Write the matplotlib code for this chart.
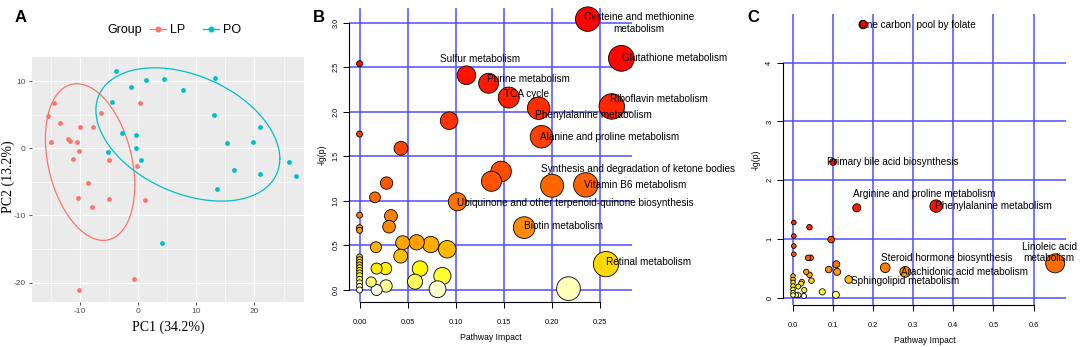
import numpy as np
import matplotlib
matplotlib.use("Agg")
import matplotlib.pyplot as plt
from matplotlib.lines import Line2D
import colorsys

# ---------------- data ----------------
# Panel A: PCA scores
lp_pc1 = [-14.4, -15.5, -13.4, -15.0, -12.1, -11.6, -10.5, -9.9, -10.2, -11.1, -7.7,
          -6.3, -8.6, -10.3, -7.9, -5.0, -5.0, 0.3, -0.2, 1.2, -0.7, -10.1]
lp_pc2 = [6.8, 4.85, 3.8, 0.9, 1.4, 1.1, 1.0, 3.2, -0.4, -1.6, 3.1,
          5.3, -5.1, -7.4, -8.7, -7.5, -1.7, 6.7, -2.7, -7.7, -19.4, -21.1]
po_pc1 = [-3.8, 1.3, 4.4, -1.2, 7.7, 13.3, -4.5, 13.1, -2.8, -0.3, -0.3,
          -5.2, 0.5, 15.3, 19.8, 20.9, 16.5, 21.0, 25.9, 27.2, 13.5, 4.2]
po_pc2 = [11.5, 10.2, 10.3, 9.2, 8.7, 10.4, 6.9, 4.9, 2.3, 2.0, 0.1,
          -0.5, -1.8, 0.8, 0.9, 3.2, -3.3, -3.8, -2.1, -4.1, -6.1, -14.1]
groups = ["LP", "PO"]
pc1_label = "PC1 (34.2%)"
pc2_label = "PC2 (13.2%)"
# confidence ellipses: centre, half-extent in x / y, covariance term
lp_ell_center = [-8.23, -2.05]
lp_ell_half = [7.67, 11.67]
lp_ell_cxy = -26.6
po_ell_center = [8.56, 2.06]
po_ell_half = [15.79, 9.93]
po_ell_cxy = -57.0
a_xticks = [-10, 0, 10, 20]
a_yticks = [-20, -10, 0, 10]

# Panel B: pathway impact vs -lg(p)
b_impact = [0.237, 0.272, 0.111, 0.134, 0.155, 0.186, 0.262, 0.093, 0.189, 0.043,
            0.0, 0.0, 0.147, 0.137, 0.235, 0.200, 0.1016, 0.171, 0.256, 0.217,
            0.028, 0.016, 0.0326, 0.0306, 0.017, 0.0448, 0.0593, 0.074, 0.091,
            0.0427, 0.0177, 0.027, 0.0628, 0.086, 0.0576, 0.0275, 0.0177, 0.012,
            0.081, 0.0, 0.0, 0.0,
            0.0, 0.0, 0.0, 0.0, 0.0, 0.0, 0.0, 0.0, 0.0, 0.0, 0.0, 0.0]
b_lgp = [3.04, 2.60, 2.41, 2.32, 2.16, 2.04, 2.06, 1.90, 1.72, 1.59,
         2.54, 1.75, 1.33, 1.22, 1.18, 1.17, 0.99, 0.70, 0.29, 0.015,
         1.20, 1.04, 0.83, 0.71, 0.48, 0.53, 0.535, 0.51, 0.457,
         0.38, 0.24, 0.24, 0.24, 0.157, 0.093, 0.045, 0.0, 0.09,
         0.008, 0.84, 0.70, 0.67,
         0.37, 0.34, 0.31, 0.28, 0.25, 0.22, 0.19, 0.16, 0.12, 0.08, 0.04, 0.0]
b_names = {0: "Cysteine and methionine\nmetabolism", 1: "Glutathione metabolism",
           2: "Sulfur metabolism", 3: "Purine metabolism", 4: "TCA cycle",
           5: "Phenylalanine metabolism", 6: "Riboflavin metabolism",
           8: "Alanine and proline metabolism",
           15: "Synthesis and degradation of ketone bodies",
           14: "Vitamin B6 metabolism",
           16: "Ubiquinone and other terpenoid-quinone biosynthesis",
           17: "Biotin metabolism", 18: "Retinal metabolism"}
b_xticks = [0.00, 0.05, 0.10, 0.15, 0.20, 0.25]
b_yticks = [0.0, 0.5, 1.0, 1.5, 2.0, 2.5, 3.0]

# Panel C
c_impact = [0.175, 0.10, 0.159, 0.357, 0.654, 0.23, 0.28, 0.139,
            0.002, 0.002, 0.002, 0.002, 0.041, 0.095, 0.0375, 0.044, 0.108,
            0.089, 0.11, 0.033, 0.041, 0.046, 0.073, 0.107,
            0.0, 0.0, 0.0, 0.0, 0.0, 0.0, 0.0,
            0.013, 0.02, 0.022, 0.028, 0.008, 0.014, 0.027]
c_lgp = [4.65, 2.31, 1.53, 1.56, 0.585, 0.51, 0.44, 0.31,
         1.28, 1.05, 0.88, 0.74, 1.20, 0.99, 0.68, 0.68, 0.57,
         0.48, 0.44, 0.44, 0.39, 0.29, 0.10, 0.05,
         0.37, 0.31, 0.26, 0.20, 0.14, 0.085, 0.045,
         0.19, 0.24, 0.27, 0.13, 0.045, 0.045, 0.03]
c_names = {0: "One carbon  pool by folate", 1: "Primary bile acid biosynthesis",
           2: "Arginine and proline metabolism", 3: "Phenylalanine metabolism",
           4: "Linoleic acid\nmetabolism", 5: "Steroid hormone biosynthesis",
           6: "Arachidonic acid metabolism", 7: "Sphingolipid metabolism"}
c_xticks = [0.0, 0.1, 0.2, 0.3, 0.4, 0.5, 0.6]
c_yticks = [0, 1, 2, 3, 4]

# ---------------- styling ----------------
W, H = 1084, 347
PX = 0.72  # points per pixel at dpi 100
SANS = ["Liberation Sans", "DejaVu Sans"]
SERIF = ["Liberation Serif", "DejaVu Serif"]
plt.rcParams["font.family"] = SANS
plt.rcParams["axes.unicode_minus"] = False

# label offsets (pixels: dx right, dy down) and alignment
b_lab_style = {0: (-4, 4, "left"), 1: (1, 0, "left"), 2: (-26, -16, "left"),
               3: (-2, -4, "left"), 4: (-5, -4, "left"), 5: (-4, 7, "left"),
               6: (-2, -7, "left"), 8: (-2, 0, "left"), 15: (-11, -17, "left"),
               14: (-2, 0, "left"), 16: (0, 1, "left"), 17: (0, -2, "left"),
               18: (0, -2, "left")}
c_lab_style = {0: (-4, 0, "left"), 1: (-6, 0, "left"), 2: (-4, -14, "left"),
               3: (-1, 0, "left"), 4: (-6, -11, "center"), 5: (-4, -10, "left"),
               6: (-4, 0, "left"), 7: (2, 1, "left")}


def ax_rect(l, t, r, b):
    return [l / W, 1 - b / H, (r - l) / W, (b - t) / H]


def heat_colors(n):
    j = n // 4
    i = n - j
    cols = []
    for k in range(i):
        h = (1 / 6) * k / (i - 1) if i > 1 else 0
        cols.append(colorsys.hsv_to_rgb(h, 1, 1))
    if j > 0:
        for s in np.linspace(1 - 1 / (2 * j), 1 / (2 * j), j):
            cols.append(colorsys.hsv_to_rgb(1 / 6, s, 1))
    return cols


def ellipse_xy(center, half, cxy, npts=240):
    M = np.array([[half[0] ** 2, cxy], [cxy, half[1] ** 2]])
    L = np.linalg.cholesky(M)
    t = np.linspace(0, 2 * np.pi, npts)
    circ = np.vstack([np.cos(t), np.sin(t)])
    e = np.asarray(center)[:, None] + L @ circ
    return e[0], e[1]


fig = plt.figure(figsize=(W / 100, H / 100), dpi=100)
fig.patch.set_facecolor("white")

# ---------------- Panel A ----------------
axA = fig.add_axes(ax_rect(32, 57, 304, 302))
axA.set_facecolor("#EBEBEB")
axA.set_xlim(-18.2, 28.5)
axA.set_ylim(-22.9, 13.6)
for v in [-15, -5, 5, 15, 25]:
    axA.axvline(v, color="white", lw=0.45, zorder=0)
for v in [-15, -5, 5]:
    axA.axhline(v, color="white", lw=0.45, zorder=0)
for v in a_xticks:
    axA.axvline(v, color="white", lw=0.9, zorder=0)
for v in a_yticks:
    axA.axhline(v, color="white", lw=0.9, zorder=0)
lp_col, po_col = "#F8766D", "#00BFC4"
axA.scatter(lp_pc1, lp_pc2, s=12, color=lp_col, zorder=3, linewidths=0)
axA.scatter(po_pc1, po_pc2, s=12, color=po_col, zorder=3, linewidths=0)
ex, ey = ellipse_xy(lp_ell_center, lp_ell_half, lp_ell_cxy)
axA.plot(ex, ey, color=lp_col, lw=0.9, zorder=2)
ex, ey = ellipse_xy(po_ell_center, po_ell_half, po_ell_cxy)
axA.plot(ex, ey, color=po_col, lw=0.9, zorder=2)
axA.set_xticks(a_xticks)
axA.set_yticks(a_yticks)
axA.tick_params(labelsize=6, labelcolor="#4D4D4D", color="#333333",
                length=2.5, width=0.6, pad=2)
for s in axA.spines.values():
    s.set_visible(False)
axA.set_xlabel(pc1_label, family=SERIF, fontsize=10, labelpad=4)
fig.text(8 / W, 1 - 177 / H, pc2_label, family=SERIF, fontsize=10,
         rotation=90, ha="center", va="center")
handles = [Line2D([], [], color=lp_col, marker="o", markersize=3.3, lw=0.9),
           Line2D([], [], color=po_col, marker="o", markersize=3.3, lw=0.9)]
leg = axA.legend(handles, groups, ncol=2, frameon=False, fontsize=9,
                 loc="center left", bbox_to_anchor=(145 / W, 1 - 30 / H),
                 bbox_transform=fig.transFigure, handlelength=1.3,
                 handletextpad=0.3, columnspacing=1.4, borderaxespad=0)
fig.text(107 / W, 1 - 30 / H, "Group", fontsize=9, va="center", ha="left")
fig.text(15 / W, 1 - 17 / H, "A", fontsize=12, fontweight="bold", va="center")


# ---------------- bubble panels ----------------
def bubble_panel(rect, xs, ys, names, styles, xlim, ylim, xticks, yticks,
                 xfmt, yfmt, rfun):
    ax = fig.add_axes(rect)
    ax.set_xlim(*xlim)
    ax.set_ylim(*ylim)
    ax.patch.set_alpha(0)
    xs = np.asarray(xs, float)
    ys = np.asarray(ys, float)
    order = np.argsort(-ys, kind="stable")
    hc = heat_colors(len(ys))
    cols = [None] * len(ys)
    for rank, idx in enumerate(order):
        cols[idx] = hc[rank]
    for v in xticks:
        ax.axvline(v, color="#5050FF", lw=1.1, zorder=1)
    for v in yticks:
        ax.axhline(v, color="#5050FF", lw=1.1, zorder=1)
    sizes = np.array([(2 * rfun(x) * PX) ** 2 for x in xs])
    draw = np.argsort(-sizes, kind="stable")
    ax.scatter(xs[draw], ys[draw], s=sizes[draw],
               c=[cols[i] for i in draw], edgecolors="black", linewidths=0.6,
               zorder=3, clip_on=False)
    for i, name in names.items():
        dx, dy, ha = styles[i]
        ax.annotate(name, (xs[i], ys[i]), xytext=(dx * PX, -dy * PX),
                    textcoords="offset points", ha=ha, va="center",
                    fontsize=7.2, multialignment="center", zorder=4,
                    annotation_clip=False)
    for s in ["top", "right"]:
        ax.spines[s].set_visible(False)
    ax.spines["left"].set_bounds(yticks[0], yticks[-1])
    ax.spines["bottom"].set_bounds(xticks[0], xticks[-1])
    for s in ["left", "bottom"]:
        ax.spines[s].set_linewidth(0.8)
    ax.set_xticks(xticks)
    ax.set_yticks(yticks)
    ax.set_xticklabels([xfmt.format(v) for v in xticks])
    ax.set_yticklabels([yfmt.format(v) for v in yticks], rotation=90,
                       va="center")
    ax.tick_params(labelsize=5.3, length=4, width=0.7, pad=3)
    ax.tick_params(axis="x", pad=8)
    ax.set_xlabel("Pathway Impact", fontsize=6.2, labelpad=5)
    ax.set_ylabel("-lg(p)", fontsize=6.2, labelpad=4)
    return ax


axB = bubble_panel(ax_rect(349, 8, 632, 302), b_impact, b_lgp, b_names,
                   b_lab_style, (-0.011, 0.283), (-0.135, 3.165), b_xticks,
                   b_yticks, "{:.2f}", "{:.1f}",
                   lambda x: 3 + 19 * np.sqrt(x))
fig.text(313 / W, 1 - 17 / H, "B", fontsize=12, fontweight="bold", va="center")

axC = bubble_panel(ax_rect(783, 14, 1066, 305), c_impact, c_lgp, c_names,
                   c_lab_style, (-0.025, 0.681), (-0.124, 4.83), c_xticks,
                   c_yticks, "{:.1f}", "{:d}",
                   lambda x: 2.3 + 11 * x)
fig.text(747 / W, 1 - 17 / H, "C", fontsize=12, fontweight="bold", va="center")

fig.savefig("out.png", dpi=100)
